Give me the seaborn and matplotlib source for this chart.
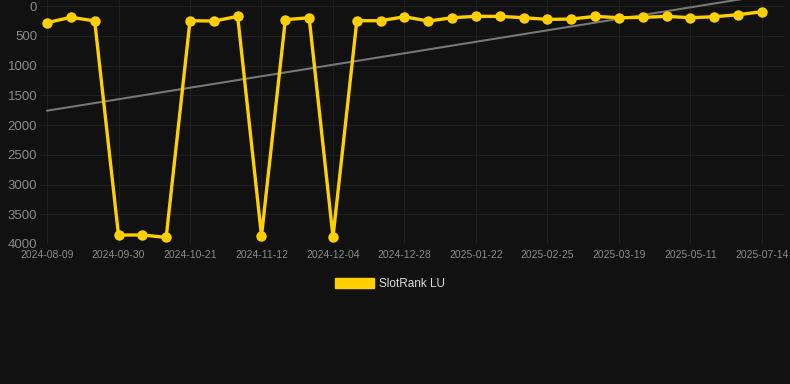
import matplotlib
matplotlib.use("Agg")
import matplotlib.pyplot as plt
import matplotlib.patches as mpatches
import seaborn as sns
import pandas as pd
import numpy as np

dates = ["2024-08-09", "2024-08-16", "2024-08-23", "2024-09-30", "2024-10-07", "2024-10-14",
         "2024-10-21", "2024-10-28", "2024-11-04", "2024-11-12", "2024-11-19", "2024-11-26",
         "2024-12-04", "2024-12-11", "2024-12-18", "2024-12-28", "2025-01-05", "2025-01-13",
         "2025-01-22", "2025-02-01", "2025-02-12", "2025-02-25", "2025-03-05", "2025-03-12",
         "2025-03-19", "2025-04-02", "2025-04-20", "2025-05-11", "2025-06-01", "2025-06-22",
         "2025-07-14"]
ranks = [280, 190, 250, 3850, 3848, 3890, 247, 253, 174, 3865, 230, 197, 3882, 247, 247,
         180, 253, 197, 174, 174, 197, 225, 219, 174, 197, 191, 174, 197, 180, 146, 96]
tick_every = 3
series_name = "SlotRank LU"

bg = "#111111"
gold = "#FFD000"
df = pd.DataFrame({"idx": np.arange(len(ranks)), "rank": ranks, "date": dates})

sns.set_theme(style="dark")
plt.rcParams["font.family"] = ["Liberation Sans", "DejaVu Sans"]

fig = plt.figure(figsize=(7.9, 3.84), dpi=100, facecolor=bg)
ax = fig.add_axes([40 / 790, 1 - 244 / 384, 745 / 790, 244 / 384])
ax.set_facecolor(bg)

sns.regplot(data=df, x="idx", y="rank", ax=ax, scatter=False, ci=None,
            line_kws=dict(color="#777777", lw=1.5, zorder=2, clip_on=False))
sns.lineplot(data=df, x="idx", y="rank", ax=ax, color=gold, lw=2.4, marker="o",
             markersize=7.5, markeredgewidth=0, zorder=3, clip_on=False)
for l in ax.lines[1:]:
    l.set_solid_joinstyle("miter")

px = 23.83
ax.set_xlim(-7 / px, 30 + 23 / px)
ax.set_ylim(4000, -101)
ax.set_yticks(np.arange(0, 4001, 500))
ax.set_yticklabels([str(v) for v in range(0, 4001, 500)], color="#8a8a8a", fontsize=9.5)
xt = list(range(0, len(dates), tick_every))
ax.set_xticks(xt)
ax.set_xticklabels([dates[i] for i in xt], color="#8a8a8a", fontsize=7.5)
ax.tick_params(axis="both", length=0, pad=4)
ax.tick_params(axis="y", pad=2)
ax.grid(True, color="#1f1f1f", lw=0.8)
for s in ax.spines.values():
    s.set_visible(False)
ax.set_xlabel("")
ax.set_ylabel("")

handle = mpatches.Patch(color=gold, label=series_name)
leg = fig.legend(handles=[handle], loc="center", bbox_to_anchor=(390 / 790, 1 - 284 / 384),
                 frameon=False, fontsize=8.5, handlelength=3.3, handleheight=0.9,
                 handletextpad=0.5)
for t in leg.get_texts():
    t.set_color("#dddddd")

fig.savefig("out.png", dpi=100, facecolor=bg)
